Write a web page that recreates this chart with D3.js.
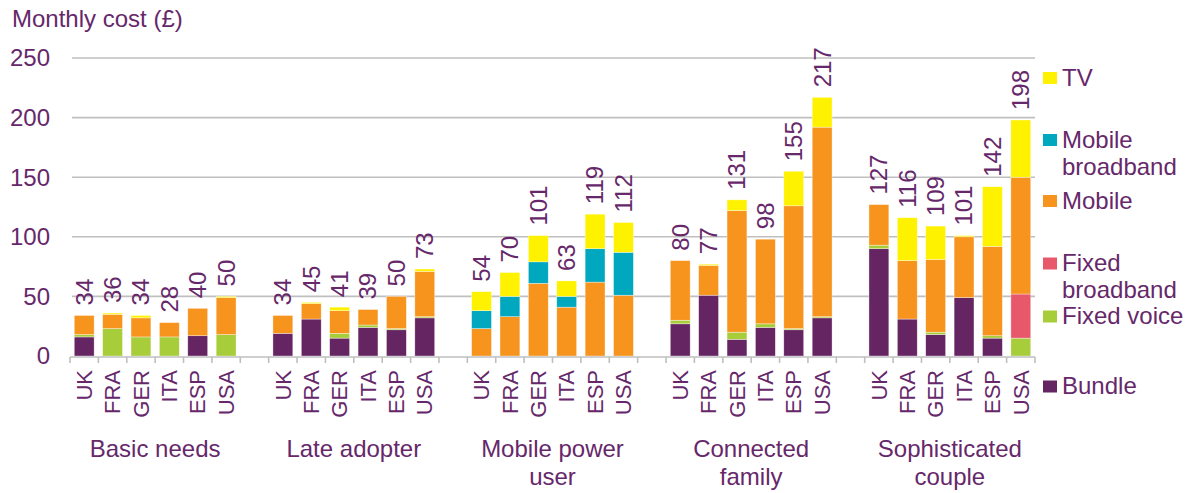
<!DOCTYPE html>
<html>
<head>
<meta charset="utf-8">
<script src="https://cdn.jsdelivr.net/npm/d3@7"></script>
<style>
  html, body { margin: 0; padding: 0; background: #fff; }
  svg { display: block; }
  text { font-family: "Liberation Sans", Arial, sans-serif; fill: #66286A; }
</style>
</head>
<body>
<svg id="chart" width="1195" height="493"></svg>
<script>
// Household segments and the countries compared within each
const segments = ["Basic needs", "Late adopter", "Mobile power user", "Connected family", "Sophisticated couple"];
const segmentLines = [["Basic needs"], ["Late adopter"], ["Mobile power", "user"], ["Connected", "family"], ["Sophisticated", "couple"]];
const countries = ["UK", "FRA", "GER", "ITA", "ESP", "USA"];

// Monthly cost (£) per service, one value per segment × country (segment-major order)
const bundle = [
  16, 0, 0, 0, 17, 0,
  19, 31, 15, 24, 22, 32,
  0, 0, 0, 0, 0, 0,
  27, 51, 14, 24, 22, 32,
  90, 31, 18, 49, 15, 0
];
const fixedVoice = [
  2, 23, 16, 16, 0, 18,
  0, 0, 4, 2, 1, 1,
  0, 0, 0, 0, 0, 0,
  3, 0, 6, 3, 1, 1,
  3, 0, 2, 0, 2, 15
];
const fixedBroadband = [
  0, 0, 0, 0, 0, 0,
  0, 0, 0, 0, 0, 0,
  0, 0, 0, 0, 0, 0,
  0, 0, 0, 0, 0, 0,
  0, 0, 0, 0, 0, 37
];
const mobile = [
  16, 12, 16, 12, 23, 31,
  15, 13, 19, 13, 27, 38,
  23, 33, 61, 41, 62, 51,
  50, 25, 102, 71, 103, 159,
  34, 49, 61, 51, 75, 98
];
const mobileBroadband = [
  0, 0, 0, 0, 0, 0,
  0, 0, 0, 0, 0, 0,
  15, 17, 18, 9, 28, 36,
  0, 0, 0, 0, 0, 0,
  0, 0, 0, 0, 0, 0
];
const tv = [
  0, 1, 2, 0, 0, 1,
  0, 1, 3, 0, 0, 2,
  16, 20, 22, 13, 29, 25,
  0, 1, 9, 0, 29, 25,
  0, 36, 28, 1, 50, 48
];

const yTicks = [0, 50, 100, 150, 200, 250];

// Stack order, bottom to top
const seriesKeys = ["Bundle", "Fixed voice", "Fixed broadband", "Mobile", "Mobile broadband", "TV"];
const seriesValues = [bundle, fixedVoice, fixedBroadband, mobile, mobileBroadband, tv];
const seriesColors = ["#652462", "#A8CD3A", "#E8586B", "#F7941E", "#00A8BF", "#FFF200"];
const legendLines = {
  "TV": ["TV"],
  "Mobile broadband": ["Mobile", "broadband"],
  "Mobile": ["Mobile"],
  "Fixed broadband": ["Fixed", "broadband"],
  "Fixed voice": ["Fixed voice"],
  "Bundle": ["Bundle"]
};

// Build one row per bar
const rows = [];
segments.forEach((seg, si) => {
  countries.forEach((c, ci) => {
    const i = si * countries.length + ci;
    const row = { key: seg + "|" + c, segment: seg, country: c };
    seriesKeys.forEach((k, ki) => { row[k] = seriesValues[ki][i]; });
    row.total = d3.sum(seriesKeys, k => row[k]);
    rows.push(row);
  });
});

// Category slots: countries of each segment with one empty slot between segments
const slots = [];
segments.forEach((seg, si) => {
  if (si > 0) slots.push("gap" + si);
  countries.forEach(c => slots.push(seg + "|" + c));
});

const svg = d3.select("#chart");
const x0 = 70, x1 = 1035;
const x = d3.scaleBand().domain(slots).range([x0, x1]).paddingInner(0.3).paddingOuter(0.15);
const y = d3.scaleLinear().domain([0, 250]).range([356, 58]);

// Gridlines + y tick labels
const gridColor = "#BFBFBF";
svg.append("g").selectAll("line").data(yTicks.filter(v => v > 0)).join("line")
  .attr("x1", 72).attr("x2", x1)
  .attr("y1", d => y(d)).attr("y2", d => y(d))
  .attr("stroke", gridColor).attr("stroke-width", 1.6);

svg.append("g").selectAll("text").data(yTicks).join("text")
  .attr("x", 50).attr("y", d => y(d)).attr("dy", "0.35em")
  .attr("text-anchor", "end").attr("font-size", 24)
  .text(d => d);

// Axis title
svg.append("text").attr("x", 12).attr("y", 27).attr("font-size", 24).text("Monthly cost (£)");

// Stacked bars
const stack = d3.stack().keys(seriesKeys);
const stacked = stack(rows);
const barsG = svg.append("g");
stacked.forEach((layer, li) => {
  barsG.append("g").attr("fill", seriesColors[li])
    .selectAll("rect").data(layer.filter(d => d[1] - d[0] > 0)).join("rect")
    .attr("x", d => x(d.data.key))
    .attr("width", x.bandwidth())
    .attr("y", d => y(d[1]))
    .attr("height", d => y(d[0]) - y(d[1]))
    .attr("stroke", "#fff").attr("stroke-width", 0.6).attr("stroke-opacity", 0.6);
});

// X axis line and tick marks at every slot boundary
const axisY = 357;
svg.append("line").attr("x1", x0).attr("x2", x1).attr("y1", axisY).attr("y2", axisY)
  .attr("stroke", gridColor).attr("stroke-width", 1.6);
const step = x.step();
const boundaries = d3.range(slots.length + 1).map(k => x0 + k * step);
svg.append("g").selectAll("line").data(boundaries).join("line")
  .attr("x1", d => d).attr("x2", d => d)
  .attr("y1", axisY).attr("y2", axisY + 6)
  .attr("stroke", gridColor).attr("stroke-width", 1.6);

// Total labels above bars
svg.append("g").selectAll("text").data(rows).join("text")
  .attr("transform", d => `translate(${x(d.key) + x.bandwidth() / 2},${y(d.total) - 10}) rotate(-90)`)
  .attr("dy", "0.35em").attr("font-size", 24)
  .text(d => d.total);

// Country labels
svg.append("g").selectAll("text").data(rows).join("text")
  .attr("transform", d => `translate(${x(d.key) + x.bandwidth() / 2},370) rotate(-90)`)
  .attr("dy", "0.35em").attr("text-anchor", "end").attr("font-size", 22)
  .text(d => d.country);

// Segment labels
segments.forEach((seg, si) => {
  const first = x(seg + "|" + countries[0]);
  const last = x(seg + "|" + countries[countries.length - 1]) + x.bandwidth();
  const t = svg.append("text").attr("x", (first + last) / 2).attr("y", 457)
    .attr("text-anchor", "middle").attr("font-size", 24);
  segmentLines[si].forEach((line, li) => {
    t.append("tspan").attr("x", (first + last) / 2).attr("dy", li === 0 ? 0 : 28).text(line);
  });
});

// Legend (top to bottom: reverse of stack order)
const legendRowY = [78, 140, 201, 263.5, 316.5, 386.5];
const legendKeys = seriesKeys.slice().reverse();
const legendG = svg.append("g");
legendKeys.forEach((k, i) => {
  const ci = seriesKeys.indexOf(k);
  const cy = legendRowY[i];
  legendG.append("rect").attr("x", 1043).attr("y", cy - 6).attr("width", 14).attr("height", 12)
    .attr("fill", seriesColors[ci]);
  const t = legendG.append("text").attr("x", 1062).attr("y", cy + 7.5).attr("font-size", 24);
  legendLines[k].forEach((line, li) => {
    t.append("tspan").attr("x", 1062).attr("dy", li === 0 ? 0 : 27).text(line);
  });
});
</script>
</body>
</html>
